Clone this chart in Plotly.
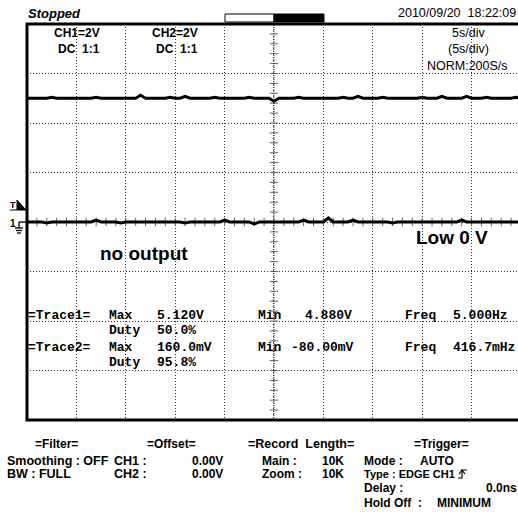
import numpy as np
import plotly.graph_objects as go

# ---- acquisition data (5 s/div, 2 V/div, record window -25 s .. +25 s) ----
t = np.arange(-25.0, 25.01, 0.5)

trace1_v = [
    5.00, 5.00, 5.00, 5.00, 5.00, 5.04, 5.00, 5.00, 5.00, 5.00,
    5.00, 5.00, 5.00, 5.00, 5.04, 5.00, 5.00, 5.00, 5.00, 5.00,
    5.00, 5.00, 5.00, 5.12, 5.00, 5.00, 5.00, 5.00, 5.00, 5.04,
    5.00, 5.00, 5.08, 5.00, 5.00, 5.00, 5.00, 5.00, 5.04, 5.00,
    5.00, 5.00, 5.00, 5.00, 5.00, 5.04, 5.00, 5.00, 5.00, 5.00,
    4.88, 5.00, 5.00, 5.00, 5.00, 5.04, 5.00, 5.00, 5.00, 5.00,
    5.00, 5.00, 5.00, 5.00, 5.04, 5.00, 5.00, 5.08, 5.00, 5.00,
    5.00, 5.00, 5.04, 5.00, 5.00, 5.00, 5.00, 5.00, 5.00, 5.00,
    5.04, 5.00, 5.00, 5.00, 5.08, 5.00, 5.00, 5.00, 5.00, 5.08,
    5.00, 5.00, 5.00, 5.04, 5.00, 5.00, 5.00, 5.00, 5.00, 5.04, 5.00,
]

trace2_v = [
    0.00, 0.00, 0.00, 0.00, -0.04, 0.00, 0.00, 0.00, 0.00, 0.00,
    0.00, 0.00, 0.00, 0.00, 0.08, 0.00, 0.00, 0.00, 0.00, -0.04,
    0.00, 0.00, 0.00, 0.00, 0.00, 0.00, 0.00, 0.00, 0.00, 0.00,
    0.00, 0.00, -0.04, 0.00, 0.00, 0.00, 0.00, 0.00, 0.00, 0.00,
    0.08, 0.00, 0.00, 0.00, 0.00, 0.00, -0.08, 0.00, 0.00, 0.00,
    0.00, 0.00, 0.00, 0.00, 0.00, 0.00, 0.08, 0.00, 0.00, 0.00,
    0.00, 0.16, 0.00, 0.00, 0.00, 0.00, 0.08, 0.00, 0.00, 0.00,
    0.00, 0.00, 0.00, 0.00, -0.04, 0.00, 0.00, 0.00, 0.00, 0.00,
    0.00, 0.00, 0.00, 0.00, 0.00, 0.00, 0.00, 0.00, 0.08, 0.00,
    0.00, 0.00, 0.00, 0.00, 0.00, 0.00, 0.00, 0.00, 0.00, 0.00, 0.00,
]

# measurement read-outs
meas_rows = [
    ["=Trace1=", "Max", "5.120V", "Min", "4.880V", "Freq", "5.000Hz"],
    ["", "Duty", "50.0%", "", "", "", ""],
    ["=Trace2=", "Max", "160.0mV", "Min", "-80.00mV", "Freq", "416.7mHz"],
    ["", "Duty", "95.8%", "", "", "", ""],
]

# ---- screen geometry (pixels) ----
W, H = 518, 515
L, T, B = 27, 24, 420          # plot-area left / top / bottom
PW, PH = W - L, B - T
X_RANGE = [-25.0, 24.7]
Y_RANGE = [-8.0, 8.0]


def px(x):
    return (x - L) / PW


def py(y):
    return (B - y) / PH


fig = go.Figure()

# centre graticule tick marks (1/5 division)
vt = np.arange(-8.0, 8.01, 0.4)
ht = np.arange(-25.0, 25.01, 1.0)
fig.add_trace(go.Scatter(x=np.zeros_like(vt), y=vt, mode="markers",
                         marker=dict(symbol="line-ew", size=6,
                                     line=dict(width=1, color="#666")),
                         hoverinfo="skip", showlegend=False))
fig.add_trace(go.Scatter(x=ht, y=np.zeros_like(ht), mode="markers",
                         marker=dict(symbol="line-ns", size=6,
                                     line=dict(width=1, color="#666")),
                         hoverinfo="skip", showlegend=False))

# waveforms
fig.add_trace(go.Scatter(x=t, y=trace1_v, mode="lines",
                         line=dict(color="black", width=3),
                         showlegend=False, name="CH1"))
fig.add_trace(go.Scatter(x=t, y=trace2_v, mode="lines",
                         line=dict(color="black", width=3),
                         showlegend=False, name="CH2"))

shapes = []
# centre axes (denser dotted)
shapes.append(dict(type="line", xref="x", yref="paper", x0=0, x1=0, y0=0, y1=1,
                   line=dict(color="#333", width=1, dash="1px,1px")))
# screen frame
shapes.append(dict(type="rect", xref="paper", yref="paper",
                   x0=0, x1=px(W + 10), y0=0, y1=1,
                   line=dict(color="black", width=3)))
# acquisition progress bar
shapes.append(dict(type="rect", xref="paper", yref="paper",
                   x0=px(225), x1=px(274), y0=py(22), y1=py(14),
                   line=dict(color="black", width=1), fillcolor="white"))
shapes.append(dict(type="rect", xref="paper", yref="paper",
                   x0=px(274), x1=px(324), y0=py(22), y1=py(14),
                   line=dict(color="black", width=1), fillcolor="black"))


def path(points, close=False):
    s = "M " + " L ".join(f"{px(a):.5f},{py(b):.5f}" for a, b in points)
    return s + (" Z" if close else "")


# trigger level marker (T with triangle)
shapes.append(dict(type="path", xref="paper", yref="paper",
                   path=path([(17, 200), (17, 210), (26, 210)], close=True),
                   fillcolor="black", line=dict(color="black", width=1)))
shapes.append(dict(type="line", xref="paper", yref="paper",
                   x0=px(10), x1=px(17), y0=py(210), y1=py(210),
                   line=dict(color="black", width=1)))
# CH1 ground marker
for seg in ([(19, 222), (27, 222)], [(19, 222), (19, 228)],
            [(15, 228), (23, 228)], [(16, 230.5), (22, 230.5)], [(17, 233), (21, 233)]):
    shapes.append(dict(type="path", xref="paper", yref="paper", path=path(seg),
                       line=dict(color="black", width=1.3)))
# rising-edge trigger symbol
shapes.append(dict(type="path", xref="paper", yref="paper",
                   path=path([(458, 478), (462, 478), (462, 470), (467, 470)]),
                   line=dict(color="black", width=1.2)))
shapes.append(dict(type="path", xref="paper", yref="paper",
                   path=path([(459, 474), (462, 470), (465, 474)]),
                   line=dict(color="black", width=1.2)))

ann = []


def label(text, x, y, size=12, anchor="left", family="Liberation Sans", bold=True,
          italic=False):
    s = text
    if bold:
        s = f"<b>{s}</b>"
    if italic:
        s = f"<i>{s}</i>"
    ann.append(dict(text=s, xref="paper", yref="paper", x=px(x), y=py(y),
                    xanchor=anchor, yanchor="middle", showarrow=False,
                    borderpad=0, borderwidth=0,
                    font=dict(family=family, size=size, color="black")))


# header
label("Stopped", 28, 14, size=13, italic=True)
label("2010/09/20  18:22:09", 516, 13, size=12.5, anchor="right", bold=False)
label("CH1=2V", 100, 33, anchor="right")
label("DC  1:1", 100, 49, anchor="right")
label("CH2=2V", 198, 33, anchor="right")
label("DC  1:1", 198, 49, anchor="right")
label("5s/div", 468, 33, anchor="center", bold=False, size=12.5)
label("(5s/div)", 468, 49, anchor="center", bold=False, size=12.5)
label("NORM:200S/s", 467, 66, anchor="center", bold=False, size=12.5)

# channel markers at the left edge
label("T", 10, 205, size=9)
label("1", 10, 223, size=10)

# on-screen notes
label("no output", 100, 253, size=19)
label("Low 0 V", 416, 237, size=19)

# measurements
col_x = [28, 109, 157, 258, 305, 405, 453]
row_y = [315, 330, 347, 362]
for r, row in enumerate(meas_rows):
    for c, txt in enumerate(row):
        if not txt:
            continue
        x = col_x[c]
        if txt.startswith("-"):
            x = 291
        label(txt, x, row_y[r], size=13, family="Liberation Mono")

# settings panel below the screen
label("=Filter=", 35, 444)
label("Smoothing : OFF", 7, 461, size=12.5)
label("BW : FULL", 7, 474, size=12.5)
label("=Offset=", 147, 444)
label("CH1 :", 114, 461, size=12.5)
label("0.00V", 192, 461)
label("CH2 :", 114, 474, size=12.5)
label("0.00V", 192, 474)
label("=Record  Length=", 248, 444, size=12.5)
label("Main :", 262, 461)
label("10K", 322, 461)
label("Zoom :", 262, 474)
label("10K", 322, 474)
label("=Trigger=", 414, 444)
label("Mode :", 364, 461)
label("AUTO", 420, 461)
label("Type : EDGE CH1", 364, 474, size=11)
label("Delay :", 364, 488)
label("0.0ns", 517, 488, anchor="right")
label("Hold Off  :", 364, 503)
label("MINIMUM", 437, 503)

grid = dict(showgrid=True, gridcolor="#333", gridwidth=1, griddash="1px,2px",
            zeroline=False, showticklabels=False, ticks="", showline=False,
            fixedrange=True)

fig.update_layout(
    width=W, height=H,
    margin=dict(l=L, r=0, t=T, b=H - B, pad=0),
    paper_bgcolor="white", plot_bgcolor="white",
    xaxis=dict(range=X_RANGE, dtick=5, tick0=0, **grid),
    yaxis=dict(range=Y_RANGE, dtick=2, tick0=0, **grid),
    shapes=shapes, annotations=ann, showlegend=False,
)

fig.write_html("out.html")
